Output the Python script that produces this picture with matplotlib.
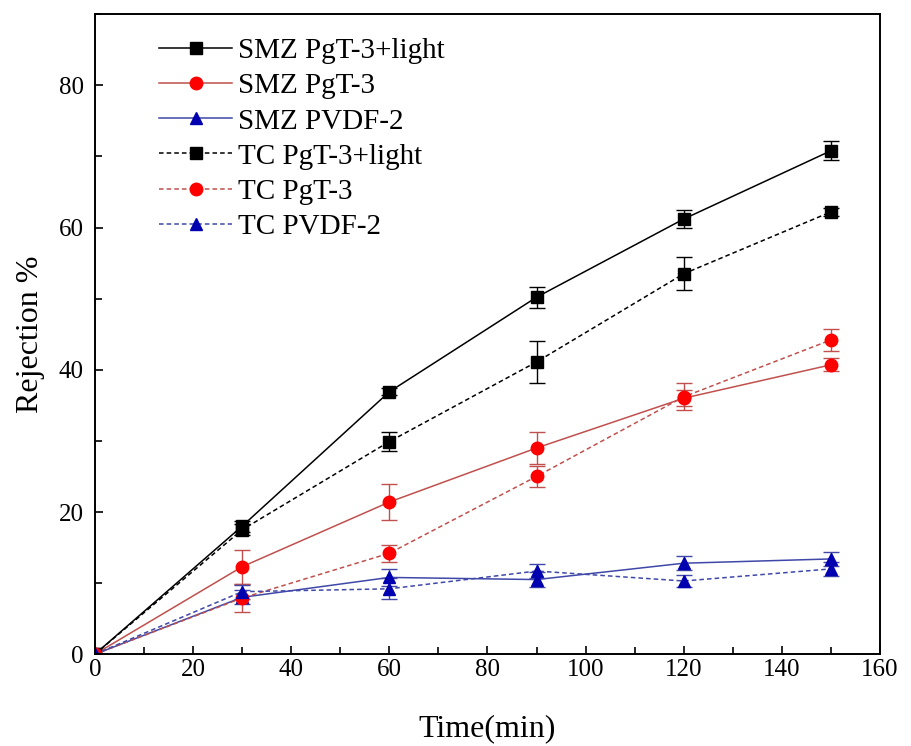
import matplotlib
matplotlib.use("Agg")
import matplotlib.pyplot as plt
from matplotlib.ticker import MultipleLocator
import numpy as np

time = [0, 30, 60, 90, 120, 150]

smz_light = [0, 18.0, 36.9, 50.2, 61.2, 70.8]
smz_light_err = [0, 0.8, 0.5, 1.5, 1.3, 1.3]
smz_pgt = [0, 12.3, 21.4, 29.0, 36.0, 40.7]
smz_pgt_err = [0, 2.4, 2.5, 2.3, 1.1, 0.9]
smz_pvdf = [0, 8.0, 10.8, 10.5, 12.8, 13.4]
smz_pvdf_err = [0, 1.0, 1.2, 1.0, 1.0, 1.0]

tc_light = [0, 17.5, 29.9, 41.1, 53.5, 62.2]
tc_light_err = [0, 0.8, 1.3, 3.0, 2.3, 0.6]
tc_pgt = [0, 7.9, 14.2, 25.0, 36.2, 44.2]
tc_pgt_err = [0, 2.0, 1.2, 1.5, 1.9, 1.5]
tc_pvdf = [0, 8.8, 9.2, 11.7, 10.3, 12.0]
tc_pvdf_err = [0, 1.0, 1.5, 1.0, 0.8, 1.0]

labels = ["SMZ PgT-3+light", "SMZ PgT-3", "SMZ PVDF-2",
          "TC PgT-3+light", "TC PgT-3", "TC PVDF-2"]

plt.rcParams['font.family'] = ['Liberation Serif', 'DejaVu Serif']

fig = plt.figure(figsize=(9.12, 7.46), dpi=100)
ax = fig.add_axes([0.104, 0.123, 0.861, 0.858])

series = [
    (smz_light, smz_light_err, 'black', 'black', 's', '-'),
    (smz_pgt, smz_pgt_err, '#c0504d', 'red', 'o', '-'),
    (smz_pvdf, smz_pvdf_err, '#3f48a8', '#0000b0', '^', '-'),
    (tc_light, tc_light_err, 'black', 'black', 's', (0, (3, 2))),
    (tc_pgt, tc_pgt_err, '#c0504d', 'red', 'o', (0, (3, 2))),
    (tc_pvdf, tc_pvdf_err, '#3f48a8', '#0000b0', '^', (0, (3, 2))),
]

handles = []
for (y, e, lc, mc, m, ls), lab in zip(series, labels):
    c = ax.errorbar(time, y, yerr=e, color=lc, ecolor=lc, elinewidth=1.0,
                    capsize=6, capthick=1.0, linestyle=ls, linewidth=1.1,
                    marker=m, markersize=9, markerfacecolor=mc,
                    markeredgecolor=mc, label=lab)
    handles.append(c[0])

ax.set_xlim(0, 160)
ax.set_ylim(0, 90)
ax.set_xticks(np.arange(0, 161, 20))
ax.set_yticks(np.arange(0, 81, 20))
ax.xaxis.set_minor_locator(MultipleLocator(10))
ax.yaxis.set_minor_locator(MultipleLocator(10))
ax.tick_params(which='major', direction='in', length=6, width=1.2, labelsize=18)
ax.tick_params(axis='y', which='major', pad=8)
ax.tick_params(which='minor', direction='in', length=5, width=1.2)
for s in ax.spines.values():
    s.set_linewidth(1.4)

ax.set_xlabel("Time(min)", fontsize=23, labelpad=24)
ax.set_ylabel("Rejection %", fontsize=23, labelpad=10)

leg = ax.legend(handles, labels, loc='upper left', bbox_to_anchor=(0.056, 0.995),
                frameon=False, fontsize=21, handlelength=2.5,
                labelspacing=0.3, handletextpad=0.2, borderaxespad=0.3)

fig.savefig("out.png", dpi=100)
